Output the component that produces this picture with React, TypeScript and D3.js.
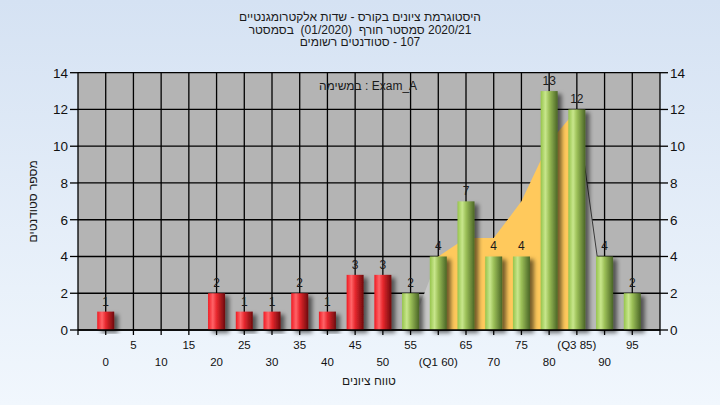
import React from 'react';
import * as d3 from 'd3';

const categories = [0, 5, 10, 15, 20, 25, 30, 35, 40, 45, 50, 55, 60, 65, 70, 75, 80, 85, 90, 95];
const xTickLabels = ['0', '5', '10', '15', '20', '25', '30', '35', '40', '45', '50', '55', '(Q1 60)', '65', '70', '75', '80', '(Q3 85)', '90', '95'];
const counts = [1, 0, 0, 0, 2, 1, 1, 2, 1, 3, 3, 2, 4, 7, 4, 4, 13, 12, 4, 2];
const passFrom = 55;
const curveCats = [55, 60, 65, 70, 75, 80, 85, 90];
const curveVals = [0, 4, 5, 5, 7, 10.2, 12, 1.1];
const q1 = 60;
const q3 = 85;
const yTicks = [0, 2, 4, 6, 8, 10, 12, 14];
// each title line is a list of pieces laid out left-to-right; Hebrew pieces are flagged
const titleLines: { t: string; heb?: boolean }[][] = [
  [{ t: 'היסטוגרמת ציונים בקורס - שדות אלקטרומגנטיים', heb: true }],
  [{ t: 'בסמסטר', heb: true }, { t: '  (01/2020)  ' }, { t: 'סמסטר חורף', heb: true }, { t: ' 2020/21' }],
  [{ t: 'סטודנטים רשומים', heb: true }, { t: ' - 107' }],
];
const annotation = 'במשימה : Exam_A';
const xTitle = 'טווח ציונים';
const yTitle = 'מספר סטודנטים';

const W = 720, H = 405;
const L = 78, R = 660, T = 72.7, B = 330;
const FONT = '"Liberation Sans", Arial, sans-serif';

export default function App() {
  const idx = (c: number) => categories.indexOf(c);
  const x = d3.scaleLinear().domain([-1, categories.length]).range([L, R]);
  const y = d3.scaleLinear().domain([0, 14]).range([B, T]);
  const bw = 17;

  const pts = curveCats.map((c, i) => ({ i: idx(c), v: curveVals[i] }));
  const area = d3.area<{ i: number; v: number }>().x(d => x(d.i)).y0(y(0)).y1(d => y(d.v));
  const line = d3.line<{ i: number; v: number }>().x(d => x(d.i)).y(d => y(d.v));
  const iq1 = idx(q1), iq3 = idx(q3);
  const leftPts = pts.filter(p => p.i <= iq1);
  const midPts = pts.filter(p => p.i >= iq1 && p.i <= iq3);
  const rightPts = pts.filter(p => p.i >= iq3);

  return (
    <div style={{ position: 'fixed', left: 0, top: 0 }}>
      <svg width={W} height={H} style={{ display: 'block' }} fontFamily={FONT}>
        <defs>
          <linearGradient id="bg" x1="0" y1="0" x2="0" y2="1">
            <stop offset="0%" stopColor="#d5e2f3" />
            <stop offset="100%" stopColor="#f1f7fd" />
          </linearGradient>
          <linearGradient id="red" x1="0" y1="0" x2="1" y2="0">
            <stop offset="0%" stopColor="#f01a22" />
            <stop offset="28%" stopColor="#ff6468" />
            <stop offset="50%" stopColor="#e8282e" />
            <stop offset="100%" stopColor="#6e0a0c" />
          </linearGradient>
          <linearGradient id="green" x1="0" y1="0" x2="1" y2="0">
            <stop offset="0%" stopColor="#96c44c" />
            <stop offset="28%" stopColor="#c8e68c" />
            <stop offset="50%" stopColor="#9cc058" />
            <stop offset="100%" stopColor="#4a6526" />
          </linearGradient>
          <filter id="shadow" x="-50%" y="-10%" width="200%" height="130%">
            <feDropShadow dx="4" dy="3" stdDeviation="2" floodColor="#000" floodOpacity="0.55" />
          </filter>
        </defs>
        <rect x={0} y={0} width={W} height={H} fill="url(#bg)" />

        {/* titles */}
        {titleLines.map((pieces, i) => (
          <text key={i} x={360} y={21 + i * 12.5} textAnchor="middle" fontSize={12} fill="#1a1a1a"
            style={{ direction: 'ltr', whiteSpace: 'pre' }}>
            {pieces.map((p, j) => (
              <tspan key={j} style={p.heb ? { direction: 'rtl', unicodeBidi: 'isolate' } : { unicodeBidi: 'isolate', direction: 'ltr' }}>{p.t}</tspan>
            ))}
          </text>
        ))}

        {/* plot area */}
        <rect x={L} y={T} width={R - L} height={B - T} fill="#b4b4b4" />
        {yTicks.map(t => (
          <line key={'h' + t} x1={L} x2={R} y1={y(t)} y2={y(t)} stroke="#000" strokeWidth={1.3} />
        ))}
        {categories.map((c, i) => (
          <line key={'v' + c} x1={x(i)} x2={x(i)} y1={T} y2={B} stroke="#000" strokeWidth={1.3} />
        ))}

        {/* distribution area */}
        <path d={area(leftPts) || ''} fill="#c8c8c8" />
        <path d={area(rightPts) || ''} fill="#bababa" />
        <path d={area(midPts) || ''} fill="#ffc95c" />
        <path d={line(rightPts) || ''} fill="none" stroke="#3a3a3a" strokeWidth={1} />

        {/* annotation */}
        <text x={368} y={90} textAnchor="middle" fontSize={12} fill="#1a1a1a" direction="ltr">{annotation}</text>

        {/* bars */}
        {counts.map((v, i) => v > 0 ? (
          <rect key={'b' + i} x={x(i) - bw / 2} y={y(v)} width={bw} height={y(0) - y(v)}
            fill={categories[i] >= passFrom ? 'url(#green)' : 'url(#red)'} filter="url(#shadow)" />
        ) : null)}
        {counts.map((v, i) => v > 0 ? (
          <text key={'l' + i} x={x(i)} y={y(v) - 6} textAnchor="middle" fontSize={12} fill="#1a1a1a">{v}</text>
        ) : null)}

        {/* axes */}
        <line x1={L} x2={L} y1={T} y2={B + 5} stroke="#000" strokeWidth={1.3} />
        <line x1={R} x2={R} y1={T} y2={B + 5} stroke="#000" strokeWidth={1.3} />
        <line x1={L} x2={R} y1={B} y2={B} stroke="#000" strokeWidth={1.3} />
        {yTicks.map(t => (
          <g key={'yt' + t}>
            <line x1={L - 8} x2={L} y1={y(t)} y2={y(t)} stroke="#000" strokeWidth={1.3} />
            <text x={L - 10} y={y(t) + 5} textAnchor="end" fontSize={13.5} fill="#111">{t}</text>
            <line x1={R} x2={R + 8} y1={y(t)} y2={y(t)} stroke="#000" strokeWidth={1.3} />
            <text x={R + 10} y={y(t) + 5} textAnchor="start" fontSize={13.5} fill="#111">{t}</text>
          </g>
        ))}
        {categories.map((c, i) => (
          <g key={'xt' + c}>
            <line x1={x(i)} x2={x(i)} y1={B} y2={B + 5} stroke="#000" strokeWidth={1.3} />
            <text x={x(i)} y={i % 2 === 0 ? 366 : 349} textAnchor="middle" fontSize={11.5} fill="#111">{xTickLabels[i]}</text>
          </g>
        ))}
        <text x={369} y={385} textAnchor="middle" fontSize={12} fill="#1a1a1a">{xTitle}</text>
        <text transform={`translate(37, ${(T + B) / 2}) rotate(-90)`} textAnchor="middle" fontSize={12} fill="#1a1a1a">{yTitle}</text>
      </svg>
    </div>
  );
}
